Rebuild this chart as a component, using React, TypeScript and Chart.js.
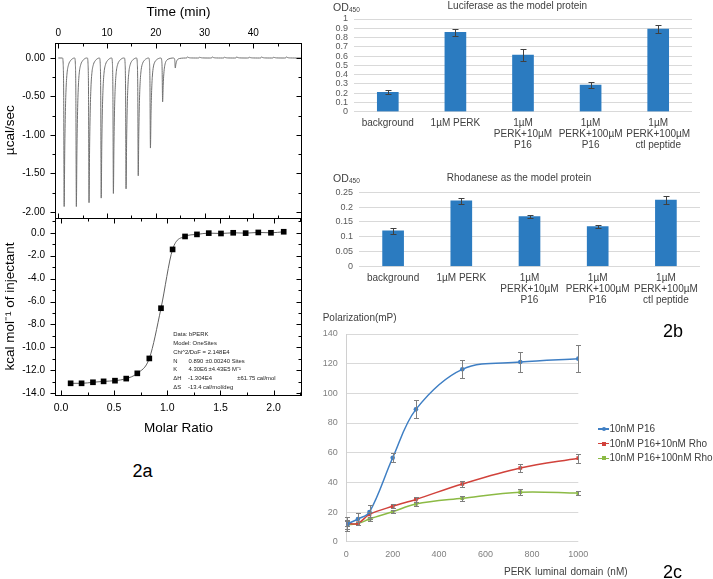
import React, { useEffect, useRef } from 'react';
import { Chart, registerables } from 'chart.js';
Chart.register(...registerables);

const FONT = '"Liberation Sans", Arial, Helvetica, sans-serif';

// ---------- 2a: ITC raw heat trace ----------
const timeTicks = [0, 10, 20, 30, 40];
const timeMinor = [5, 15, 25, 35, 45];
const rateTicks = [0, -0.5, -1, -1.5, -2];
const rateMinor = [-0.25, -0.75, -1.25, -1.75];
const injectionTimes = [1.2, 3.7, 6.3, 8.8, 11.3, 13.9, 16.4, 18.9, 21.4, 24.0, 26.5, 29.0, 31.6, 34.1, 36.6, 39.2, 41.7, 44.2, 46.8];
const injectionPeaks = [-1.93, -1.93, -1.88, -1.82, -1.76, -1.70, -1.53, -1.17, -0.57, -0.13, 0.015, 0.012, 0.015, 0.012, 0.015, 0.012, 0.015, 0.012, 0.015];
// peak profile: minutes from injection / fraction of peak depth
const peakShapeT = [-0.35, -0.2, -0.1, 0, 0.12, 0.25, 0.4, 0.6, 0.9, 1.3, 1.7, 2.1];
const peakShapeF = [0, 0.04, 0.25, 1, 0.62, 0.36, 0.2, 0.1, 0.045, 0.018, 0.005, 0];

// ---------- 2a: binding isotherm ----------
const molarRatio = [0.091, 0.194, 0.301, 0.401, 0.508, 0.614, 0.718, 0.831, 0.941, 1.05, 1.167, 1.279, 1.39, 1.505, 1.62, 1.737, 1.856, 1.975, 2.095];
const heatPerMol = [-13.13, -13.13, -13.04, -12.96, -12.9, -12.72, -12.26, -10.96, -6.58, -1.45, -0.32, -0.14, -0.03, -0.06, 0, -0.03, 0.03, 0, 0.09];
const ratioTicks = [0, 0.5, 1, 1.5, 2];
const ratioMinor = [0.25, 0.75, 1.25, 1.75, 2.25];
const heatTicks = [0, -2, -4, -6, -8, -10, -12, -14];
const heatMinor = [1, -1, -3, -5, -7, -9, -11, -13];

// ---------- 2b: bar charts ----------
const assayLabels = ['background', '1µM PERK', ['1µM', 'PERK+10µM', 'P16'], ['1µM', 'PERK+100µM', 'P16'], ['1µM', 'PERK+100µM', 'ctl peptide']];
const lucMeans = [0.21, 0.857, 0.612, 0.288, 0.892];
const lucErrs = [0.02, 0.035, 0.06, 0.035, 0.04];
const lucTicks = [0, 0.1, 0.2, 0.3, 0.4, 0.5, 0.6, 0.7, 0.8, 0.9, 1];
const rhoMeans = [0.12, 0.221, 0.168, 0.134, 0.224];
const rhoErrs = [0.01, 0.009, 0.005, 0.005, 0.012];
const rhoTicks = [0, 0.05, 0.1, 0.15, 0.2, 0.25];

// ---------- 2c: polarization ----------
const perkConc = [5, 50, 100, 200, 300, 500, 750, 1000];
const p16Mean = [12, 15.3, 20, 56.6, 89.2, 116.2, 121.1, 123.4];
const p16Err = [4.5, 4, 4.8, 3.2, 6, 6, 6.9, 9.3];
const rho10Mean = [12.2, 12.3, 18.4, 23.9, 28.5, 38.9, 49.7, 56.3];
const rho10Err = [1.5, 1.2, 1.5, 1.2, 1.8, 2, 2.5, 3];
const rho100Mean = [11.5, 12.2, 15.3, 20.2, 25.4, 29.3, 33.4, 32.8];
const rho100Err = [3, 1, 1.2, 1, 1.5, 1.8, 1.8, 1.5];
const polTicks = [0, 20, 40, 60, 80, 100, 120, 140];
const concTicks = [0, 200, 400, 600, 800, 1000];
const seriesNames = ['10nM P16', '10nM P16+10nM Rho', '10nM P16+100nM Rho'];
const seriesColors = ['#3f7fc4', '#d1423b', '#8cba45'];

const BAR_BLUE = '#2b7bc0';

const setTicks = (arr: number[]) => (s: any) => { s.ticks = arr.map((v) => ({ value: v })); };
const fitW = (w: number) => (s: any) => { s.width = w; s.paddingTop = 0; s.paddingBottom = 0; s.paddingLeft = 0; s.paddingRight = 0; };
const fitH = (h: number) => (s: any) => { s.height = h; s.paddingTop = 0; s.paddingBottom = 0; s.paddingLeft = 0; s.paddingRight = 0; };
const fmtNum = (v: any) => String(parseFloat(Number(v).toFixed(3)));

function makeFrame(xMaj: number[], xMin: number[], yMaj: number[], yMin: number[]) {
  return {
    id: 'originFrame',
    afterDraw(chart: any) {
      const { ctx, chartArea: a, scales } = chart;
      const xs = scales.x, ys = scales.y;
      const L = Math.round(a.left) + 0.5, R = Math.round(a.right) - 0.5;
      const T = Math.round(a.top) + 0.5, B = Math.round(a.bottom) + 0.5;
      ctx.save();
      ctx.strokeStyle = '#000';
      ctx.lineWidth = 1;
      ctx.strokeRect(L, T, R - L, B - T);
      ctx.beginPath();
      const vx = (v: number, len: number) => {
        const p = Math.round(xs.getPixelForValue(v)) + 0.5;
        ctx.moveTo(p, T); ctx.lineTo(p, T + len);
        ctx.moveTo(p, B); ctx.lineTo(p, B - len);
      };
      const vy = (v: number, len: number) => {
        const p = Math.round(ys.getPixelForValue(v)) + 0.5;
        ctx.moveTo(L - len, p); ctx.lineTo(L, p);
        ctx.moveTo(R, p); ctx.lineTo(R - len, p);
      };
      xMaj.forEach((v) => vx(v, 5));
      xMin.forEach((v) => vx(v, 3));
      yMaj.forEach((v) => vy(v, 5));
      yMin.forEach((v) => vy(v, 3));
      ctx.stroke();
      ctx.restore();
    },
  };
}

function errorBars(errs: number[][], color: string, cap: number) {
  return {
    id: 'errorBars',
    afterDatasetsDraw(chart: any) {
      const ctx = chart.ctx;
      const ys = chart.scales.y;
      ctx.save();
      ctx.strokeStyle = color;
      ctx.lineWidth = 1;
      errs.forEach((e, di) => {
        const meta = chart.getDatasetMeta(di);
        const ds = chart.data.datasets[di];
        meta.data.forEach((el: any, i: number) => {
          const d = ds.data[i];
          const v = typeof d === 'number' ? d : d.y;
          const x = Math.round(el.x) + 0.5;
          const y1 = Math.round(ys.getPixelForValue(v + e[i])) + 0.5;
          const y2 = Math.round(ys.getPixelForValue(v - e[i])) + 0.5;
          ctx.beginPath();
          ctx.moveTo(x, y1); ctx.lineTo(x, y2);
          ctx.moveTo(x - cap, y1); ctx.lineTo(x + cap, y1);
          ctx.moveTo(x - cap, y2); ctx.lineTo(x + cap, y2);
          ctx.stroke();
        });
      });
      ctx.restore();
    },
  };
}

function buildTrace() {
  const pts: { x: number; y: number }[] = [{ x: 0, y: 0 }];
  injectionTimes.forEach((t0, i) => {
    peakShapeT.forEach((dt, k) => pts.push({ x: t0 + dt, y: injectionPeaks[i] * peakShapeF[k] }));
  });
  pts.push({ x: 49.9, y: 0 });
  return pts;
}

const base = { animation: false, responsive: false, maintainAspectRatio: false, devicePixelRatio: 1, events: [] as any[] };
const noPlug = { legend: { display: false }, tooltip: { enabled: false } };

const itcTopConfig = () => ({
  type: 'scatter',
  data: {
    datasets: [{
      data: buildTrace(), showLine: true, borderColor: '#707070', borderWidth: 1, pointRadius: 0,
      cubicInterpolationMode: 'monotone',
    }],
  },
  options: {
    ...base,
    layout: { padding: { left: 0, top: 0, right: 28, bottom: 4.5 } },
    plugins: noPlug,
    scales: {
      x: {
        type: 'linear', position: 'top', min: -0.68, max: 50,
        afterBuildTicks: setTicks(timeTicks), afterFit: fitH(43),
        grid: { display: false, drawTicks: false }, border: { display: false },
        ticks: { color: '#000', font: { family: FONT, size: 10 }, padding: 4, maxRotation: 0, autoSkip: false },
        title: { display: true, text: 'Time (min)', color: '#000', font: { family: FONT, size: 13.5 }, padding: { top: 3.9, bottom: 0 } },
      },
      y: {
        type: 'linear', min: -2.072, max: 0.195,
        afterBuildTicks: setTicks(rateTicks), afterFit: fitW(55),
        grid: { display: false, drawTicks: false }, border: { display: false },
        ticks: { color: '#000', font: { family: FONT, size: 10 }, padding: 10, autoSkip: false, callback: (v: any) => Number(v).toFixed(2) },
        title: { display: true, text: 'µcal/sec', color: '#000', font: { family: FONT, size: 13.5 }, padding: { top: 2, bottom: 0 } },
      },
    },
  },
  plugins: [makeFrame(timeTicks, timeMinor, rateTicks, rateMinor)],
});

const itcBottomConfig = () => {
  const pts = molarRatio.map((x, i) => ({ x, y: heatPerMol[i] }));
  return {
    type: 'scatter',
    data: {
      datasets: [
        { data: pts, pointStyle: 'rect', pointRadius: 4, backgroundColor: '#000', borderColor: '#000', borderWidth: 0, showLine: false },
        { data: pts, showLine: true, pointRadius: 0, borderColor: '#606060', borderWidth: 1, cubicInterpolationMode: 'monotone' },
      ],
    },
    options: {
      ...base,
      layout: { padding: { left: 0, top: 3.5, right: 28, bottom: 0 } },
      plugins: noPlug,
      scales: {
        x: {
          type: 'linear', min: -0.056, max: 2.267,
          afterBuildTicks: setTicks(ratioTicks), afterFit: fitH(45),
          grid: { display: false, drawTicks: false }, border: { display: false },
          ticks: { color: '#000', font: { family: FONT, size: 10.5 }, padding: 7, maxRotation: 0, autoSkip: false, callback: (v: any) => Number(v).toFixed(1) },
          title: { display: true, text: 'Molar Ratio', color: '#000', font: { family: FONT, size: 13.5 }, padding: { top: 0, bottom: 3.9 } },
        },
        y: {
          type: 'linear', min: -14.15, max: 1.29,
          afterBuildTicks: setTicks(heatTicks), afterFit: fitW(55),
          grid: { display: false, drawTicks: false }, border: { display: false },
          ticks: { color: '#000', font: { family: FONT, size: 10 }, padding: 10, autoSkip: false, callback: (v: any) => Number(v).toFixed(1) },
          title: { display: true, text: 'kcal mol⁻¹ of injectant', color: '#000', font: { family: FONT, size: 13.5 }, padding: { top: 2, bottom: 0 } },
        },
      },
    },
    plugins: [makeFrame(ratioTicks, ratioMinor, heatTicks, heatMinor)],
  };
};

const barConfig = (means: number[], errs: number[], ticks: number[], max: number, pad: any, yW: number, xH: number) => () => ({
  type: 'bar',
  data: { labels: assayLabels, datasets: [{ data: means, backgroundColor: BAR_BLUE, barThickness: 21 }] },
  options: {
    ...base,
    layout: { padding: pad },
    plugins: noPlug,
    scales: {
      x: {
        grid: { display: false, drawTicks: false }, border: { display: false }, afterFit: fitH(xH),
        ticks: { color: '#404040', font: { family: FONT, size: 10, lineHeight: '11px' }, padding: 6, maxRotation: 0, autoSkip: false },
      },
      y: {
        min: 0, max, afterBuildTicks: setTicks(ticks), afterFit: fitW(yW),
        grid: { color: '#d9d9d9', drawTicks: false }, border: { display: false },
        ticks: { color: '#595959', font: { family: FONT, size: 9 }, padding: 6, autoSkip: false, callback: fmtNum },
      },
    },
  },
  plugins: [errorBars([errs], '#404040', 3)],
});

const polConfig = () => {
  const means = [p16Mean, rho10Mean, rho100Mean];
  const styles = ['circle', 'rect', 'rect'];
  return {
    type: 'scatter',
    data: {
      datasets: means.map((m, k) => ({
        label: seriesNames[k],
        data: perkConc.map((x, i) => ({ x, y: m[i] })),
        showLine: true, tension: 0.35, borderColor: seriesColors[k], backgroundColor: seriesColors[k],
        borderWidth: 1.5, pointStyle: styles[k], pointRadius: k === 0 ? 2.3 : 2.6, pointBorderWidth: 0,
      })),
    },
    options: {
      ...base,
      layout: { padding: { left: 0, top: 34, right: 134.7, bottom: 0 } },
      plugins: noPlug,
      scales: {
        x: {
          type: 'linear', min: 0, max: 1000, afterBuildTicks: setTicks(concTicks), afterFit: fitH(37.3),
          grid: { display: false, drawTicks: false }, border: { display: false },
          ticks: { color: '#808080', font: { family: FONT, size: 9 }, padding: 7, maxRotation: 0, autoSkip: false, callback: (v: any) => String(v) },
        },
        y: {
          type: 'linear', min: 0, max: 140, afterBuildTicks: setTicks(polTicks), afterFit: fitW(46.3),
          grid: { color: '#d9d9d9', drawTicks: false }, border: { display: true, color: '#d0d0d0' },
          ticks: { color: '#808080', font: { family: FONT, size: 9 }, padding: 8.6, autoSkip: false, callback: (v: any) => String(v) },
        },
      },
    },
    plugins: [errorBars([p16Err, rho10Err, rho100Err], '#7f7f7f', 2.5)],
  };
};

function ChartBox({ left, top, width, height, make }: { left: number; top: number; width: number; height: number; make: () => any }) {
  const ref = useRef<HTMLCanvasElement>(null);
  useEffect(() => {
    const chart = new Chart(ref.current as HTMLCanvasElement, make());
    return () => chart.destroy();
  }, []);
  return <canvas ref={ref} width={width} height={height} style={{ position: 'absolute', left, top, width, height }} />;
}

function Txt({ x, y, size, children, align = 'left', color = '#000', style = {} }: any) {
  const st: React.CSSProperties = {
    position: 'absolute', left: x, top: y - size * 0.6, fontSize: size, lineHeight: `${size * 1.2}px`,
    fontFamily: FONT, color, whiteSpace: 'pre', ...style,
  };
  if (align === 'center') st.transform = 'translateX(-50%)';
  if (align === 'right') st.transform = 'translateX(-100%)';
  return <div style={st}>{children}</div>;
}

const fitLines: [number, string[], number[]][] = [
  [335, ['Data: bPERK'], [173.3]],
  [343.8, ['Model: OneSites'], [173.3]],
  [352.5, ['Chi^2/DoF = 2.148E4'], [173.3]],
  [361.2, ['N', '0.890', '±0.00240 Sites'], [173.3, 188.5, 205.5]],
  [369.9, ['K', '4.30E6', '±4.43E5 M⁻¹'], [173.3, 188.5, 208.5]],
  [378.5, ['ΔH', '-1.304E4', '±61.75 cal/mol'], [173.3, 188, 237.3]],
  [387.1, ['ΔS', '-13.4 cal/mol/deg'], [173.3, 188]],
];

const legendY = [429, 443.7, 458.3];

export default function App() {
  return (
    <div style={{ position: 'absolute', left: 0, top: 0, width: 713, height: 579, overflow: 'hidden', background: '#fff' }}>
      <ChartBox left={0} top={0} width={330} height={222} make={itcTopConfig} />
      <ChartBox left={0} top={214} width={330} height={226} make={itcBottomConfig} />
      <ChartBox left={330} top={0} width={383} height={152}
        make={barConfig(lucMeans, lucErrs, lucTicks, 1, { left: 0, top: 19, right: 21, bottom: 0 }, 24, 40.3)} />
      <ChartBox left={330} top={150} width={383} height={160}
        make={barConfig(rhoMeans, rhoErrs, rhoTicks, 0.25, { left: 0, top: 42.3, right: 13, bottom: 0 }, 29, 43.7)} />
      <ChartBox left={300} top={300} width={413} height={279} make={polConfig} />

      {fitLines.map(([y, parts, xs], i) =>
        parts.map((p, j) => <Txt key={`f${i}-${j}`} x={xs[j]} y={y} size={5.9} color="#222">{p}</Txt>))}
      <Txt x={142.5} y={472} size={18} align="center">2a</Txt>

      <Txt x={517.3} y={5.5} size={10} align="center" color="#404040">Luciferase as the model protein</Txt>
      <Txt x={333} y={7} size={10.5} color="#404040">OD</Txt>
      <Txt x={349} y={10} size={6.5} color="#404040">450</Txt>
      <Txt x={519} y={177.7} size={10} align="center" color="#404040">Rhodanese as the model protein</Txt>
      <Txt x={333} y={178} size={10.5} color="#404040">OD</Txt>
      <Txt x={349} y={181} size={6.5} color="#404040">450</Txt>
      <Txt x={663} y={331.7} size={18}>2b</Txt>

      <Txt x={322.7} y={317.7} size={10} color="#404040">Polarization(mP)</Txt>
      <Txt x={504} y={572} size={10} color="#404040" style={{ wordSpacing: 1 }}>PERK luminal domain (nM)</Txt>
      <Txt x={663} y={573} size={18}>2c</Txt>
      {seriesNames.map((n, k) => (
        <React.Fragment key={n}>
          <div style={{ position: 'absolute', left: 598, top: legendY[k] - 0.75, width: 11, height: 1.5, background: seriesColors[k] }} />
          <div style={{ position: 'absolute', left: 601.5, top: legendY[k] - 2, width: 4, height: 4, background: seriesColors[k], borderRadius: k === 0 ? 2 : 0 }} />
          <Txt x={609.5} y={legendY[k]} size={10} color="#404040">{n}</Txt>
        </React.Fragment>
      ))}
    </div>
  );
}
